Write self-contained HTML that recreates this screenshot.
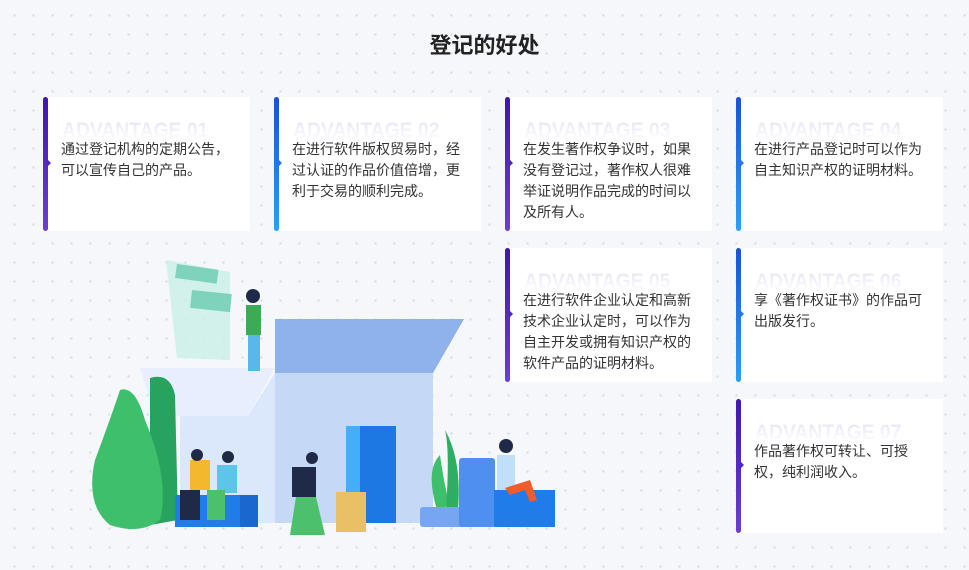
<!DOCTYPE html>
<html><head><meta charset="utf-8">
<style>
html,body{margin:0;padding:0;}
body{width:969px;height:570px;overflow:hidden;position:relative;background-color:#f6f7fb;
background-image:radial-gradient(circle,#d9dbe6 1px,transparent 1.4px);background-size:19px 19px;background-position:5px 6px;
font-family:"Liberation Sans","Noto Sans CJK SC",sans-serif;}
h1{position:absolute;left:0;width:969px;top:31px;margin:0;text-align:center;font-size:22px;font-weight:bold;color:#222;line-height:30px;}
.card{position:absolute;width:207px;height:134px;background:#fff;border-radius:3px 0 0 3px;}
.bar{position:absolute;left:0;top:0;width:5px;height:100%;border-radius:3px;}
.p .bar{background:linear-gradient(#3f16b0,#6b3fd2);}
.b .bar{background:linear-gradient(#1e4fd8,#2aa0f5);}
.bar:after{content:"";position:absolute;left:4px;top:62px;border-left:4px solid;border-top:4px solid transparent;border-bottom:4px solid transparent;}
.p .bar:after{border-left-color:#4f25bf;}
.b .bar:after{border-left-color:#2278e8;}
.wm{position:absolute;left:19px;top:22px;font-size:21px;font-weight:bold;letter-spacing:0px;white-space:nowrap;transform:scaleX(0.92);transform-origin:left;
background:linear-gradient(#e4e4f3,#ffffff 90%);-webkit-background-clip:text;background-clip:text;color:transparent;}
.tx{position:absolute;left:18px;top:42px;width:174px;font-size:14px;line-height:21px;color:#333;}
</style></head><body>
<h1>登记的好处</h1>

<div class="card p" style="left:43px;top:97px"><div class="bar"></div><div class="wm">ADVANTAGE 01</div><div class="tx">通过登记机构的定期公告，可以宣传自己的产品。</div></div>
<div class="card b" style="left:274px;top:97px"><div class="bar"></div><div class="wm">ADVANTAGE 02</div><div class="tx">在进行软件版权贸易时，经过认证的作品价值倍增，更利于交易的顺利完成。</div></div>
<div class="card p" style="left:505px;top:97px"><div class="bar"></div><div class="wm">ADVANTAGE 03</div><div class="tx">在发生著作权争议时，如果没有登记过，著作权人很难举证说明作品完成的时间以及所有人。</div></div>
<div class="card b" style="left:736px;top:97px"><div class="bar"></div><div class="wm">ADVANTAGE 04</div><div class="tx">在进行产品登记时可以作为自主知识产权的证明材料。</div></div>
<div class="card p" style="left:505px;top:248px"><div class="bar"></div><div class="wm">ADVANTAGE 05</div><div class="tx">在进行软件企业认定和高新技术企业认定时，可以作为自主开发或拥有知识产权的软件产品的证明材料。</div></div>
<div class="card b" style="left:736px;top:248px"><div class="bar"></div><div class="wm">ADVANTAGE 06</div><div class="tx">享《著作权证书》的作品可出版发行。</div></div>
<div class="card p" style="left:736px;top:399px"><div class="bar"></div><div class="wm">ADVANTAGE 07</div><div class="tx">作品著作权可转让、可授权，纯利润收入。</div></div>

<svg style="position:absolute;left:0;top:0" width="969" height="570">
 <polygon points="166,260 230,272 230,360 177,358" fill="#c9efe6" opacity="0.8"/>
 <rect x="177" y="264" width="42" height="14" fill="#7fd3bd" transform="rotate(8 177 264)"/>
 <rect x="192" y="290" width="40" height="18" fill="#7fd3bd" transform="rotate(6 192 290)"/>
 <polygon points="275,373 433,373 433,523 275,523" fill="#c5d8f6"/>
 <polygon points="275,319 464,319 433,373 275,373" fill="#8fb2ec"/>
 <polygon points="140,368 275,368 248,416 155,416" fill="#e7efff"/>
 <polygon points="155,416 248,416 275,373 275,523 180,523 180,416" fill="#dbe7fb"/>
 <rect x="346" y="426" width="14" height="97" fill="#42aefc"/>
 <rect x="360" y="426" width="36" height="97" fill="#1d78e4"/>
 <path d="M150,378 Q170,372 175,395 L178,520 L150,525 Z" fill="#27a35e"/>
 <path d="M120,390 Q135,385 145,420 Q170,480 160,520 Q140,535 110,525 Q85,505 95,460 Q110,420 120,390Z" fill="#3ebf6b"/>
 <rect x="175" y="495" width="83" height="32" fill="#1f7ce8"/>
 <rect x="240" y="495" width="18" height="32" fill="#1a67d0"/>
 <rect x="190" y="460" width="20" height="30" fill="#f4b82e"/>
 <circle cx="197" cy="455" r="6" fill="#1e2a48"/>
 <rect x="217" y="465" width="20" height="28" fill="#5fc4ea"/>
 <circle cx="228" cy="457" r="6" fill="#1e2a48"/>
 <rect x="180" y="490" width="20" height="30" fill="#1e2a48"/>
 <rect x="207" y="490" width="18" height="30" fill="#4cc06a"/>
 <rect x="292" y="467" width="24" height="30" fill="#1e2a48"/>
 <circle cx="312" cy="458" r="6" fill="#1e2a48"/>
 <path d="M296,497 L316,497 L325,535 L290,535 Z" fill="#4cc06a"/>
 <rect x="336" y="492" width="30" height="40" fill="#e9c066"/>
 <rect x="246" y="305" width="15" height="30" fill="#3eaa55"/>
 <circle cx="253" cy="296" r="7" fill="#1e2a48"/>
 <rect x="248" y="335" width="12" height="36" fill="#56b9ea"/>
 <path d="M437,510 Q425,470 440,455 Q445,490 450,505Z" fill="#3ebf6b"/>
 <path d="M446,510 Q450,450 445,430 Q462,460 458,510Z" fill="#2fae63"/>
 <rect x="420" y="507" width="50" height="20" rx="3" fill="#76a6f2"/>
 <rect x="459" y="458" width="36" height="69" rx="3" fill="#4f8ff0"/>
 <rect x="494" y="490" width="61" height="37" fill="#1f7ce8"/>
 <rect x="497" y="455" width="18" height="35" fill="#bfe0f8"/>
 <circle cx="506" cy="446" r="7" fill="#1e2a48"/>
 <path d="M505,488 L530,480 L537,500 L530,502 L525,490 L510,495Z" fill="#f25b2a"/>
</svg>
</body></html>
